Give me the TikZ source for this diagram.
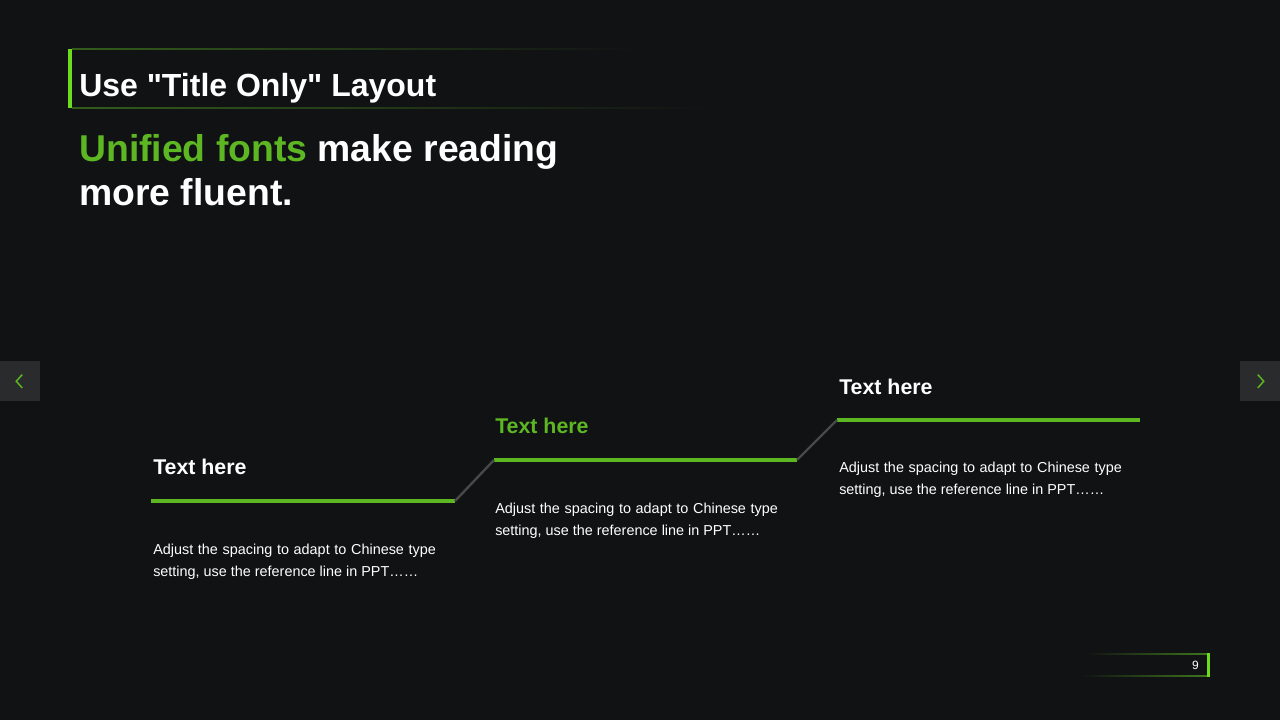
\documentclass[tikz,border=0pt]{standalone}
\usepackage{fontspec}
\setmainfont{Liberation Sans}
\usetikzlibrary{positioning}
\definecolor{bgdark}{HTML}{111214}
\definecolor{myaccent}{HTML}{5DB722}
\definecolor{mybright}{HTML}{6EDC1E}
\definecolor{navgray}{HTML}{2A2B2D}
\definecolor{risergray}{HTML}{484848}

\begin{document}
\begin{tikzpicture}[
        x=0.75pt, y=-0.75pt,
        titletext/.style={anchor=base west, inner sep=0pt, text=white, font=\fontsize{24}{28}\selectfont\bfseries},
        subtitle/.style={anchor=base west, inner sep=0pt, text=white, font=\fontsize{28}{33}\selectfont\bfseries},
        heading/.style={anchor=base west, inner sep=0pt, text=white, font=\fontsize{16}{19}\selectfont\bfseries},
        body/.style={anchor=north west, inner sep=0pt, text=white, text width=212pt, align=justify, font=\fontsize{10.8}{17}\selectfont},
        stepline/.style={myaccent, line width=3pt},
        riser/.style={risergray, line width=1.8pt},
        navbox/.style={fill=navgray, minimum size=30pt, inner sep=0pt},
        chevron/.style={myaccent, line width=1.1pt}
    ]
    \fill[bgdark] (0,0) rectangle (1280,720);
    \useasboundingbox (0,0) rectangle (1280,720);

    % title bar
    \fill[mybright] (68,49) rectangle (72,108);
    \shade[left color=myaccent!45!bgdark, right color=bgdark] (72,48.5) rectangle (640,49.5);
    \shade[left color=myaccent!45!bgdark, right color=bgdark] (72,107.5) rectangle (710,108.5);
    \node [titletext] (title) at (79,97) {Use \textquotedbl Title Only\textquotedbl{} Layout};
    \node [subtitle] (sub1) at (79,162) {\textcolor{myaccent}{Unified fonts} make reading};
    \node [subtitle] (sub2) at (79,206) {more fluent.};

    % side navigation
    \node [navbox, anchor=north west] (prev) at (0,361) {};
    \node [navbox, anchor=north east] (next) at (1280,361) {};
    \draw[chevron] ([xshift=1.5pt, yshift=5pt]prev.center) -- ([xshift=-3pt]prev.center) -- ([xshift=1.5pt, yshift=-5pt]prev.center);
    \draw[chevron] ([xshift=-1.5pt, yshift=5pt]next.center) -- ([xshift=3pt]next.center) -- ([xshift=-1.5pt, yshift=-5pt]next.center);

    % steps
    \coordinate (s1a) at (151,501);
    \coordinate (s1b) at (455,501);
    \coordinate (s2a) at (494,460);
    \coordinate (s2b) at (797,460);
    \coordinate (s3a) at (837,420);
    \coordinate (s3b) at (1140,420);
    \draw[stepline] (s1a) -- (s1b);
    \draw[stepline] (s2a) -- (s2b);
    \draw[stepline] (s3a) -- (s3b);
    \draw[riser] (s1b) -- (s2a);
    \draw[riser] (s2b) -- (s3a);

    \node [heading] (head1) at (153,474) {Text here};
    \node [heading, text=myaccent] (head2) at (495,433) {Text here};
    \node [heading] (head3) at (839,394) {Text here};
    \node [body] (body1) at (153,543.5) {Adjust the spacing to adapt to Chinese type\linebreak setting, use the reference line in PPT……};
    \node [body] (body2) at (495,502.5) {Adjust the spacing to adapt to Chinese type\linebreak setting, use the reference line in PPT……};
    \node [body] (body3) at (839,461.5) {Adjust the spacing to adapt to Chinese type\linebreak setting, use the reference line in PPT……};

    % page number
    \shade[left color=bgdark, right color=myaccent!60!bgdark] (1085,653.5) rectangle (1207,654.5);
    \shade[left color=bgdark, right color=myaccent!60!bgdark] (1080,675.5) rectangle (1207,676.5);
    \fill[mybright] (1207,653) rectangle (1210,677);
    \node [anchor=east, inner sep=0pt, text=white, font=\fontsize{9}{10}\selectfont] (pagenum) at (1199,665.5) {9};
\end{tikzpicture}
\end{document}
